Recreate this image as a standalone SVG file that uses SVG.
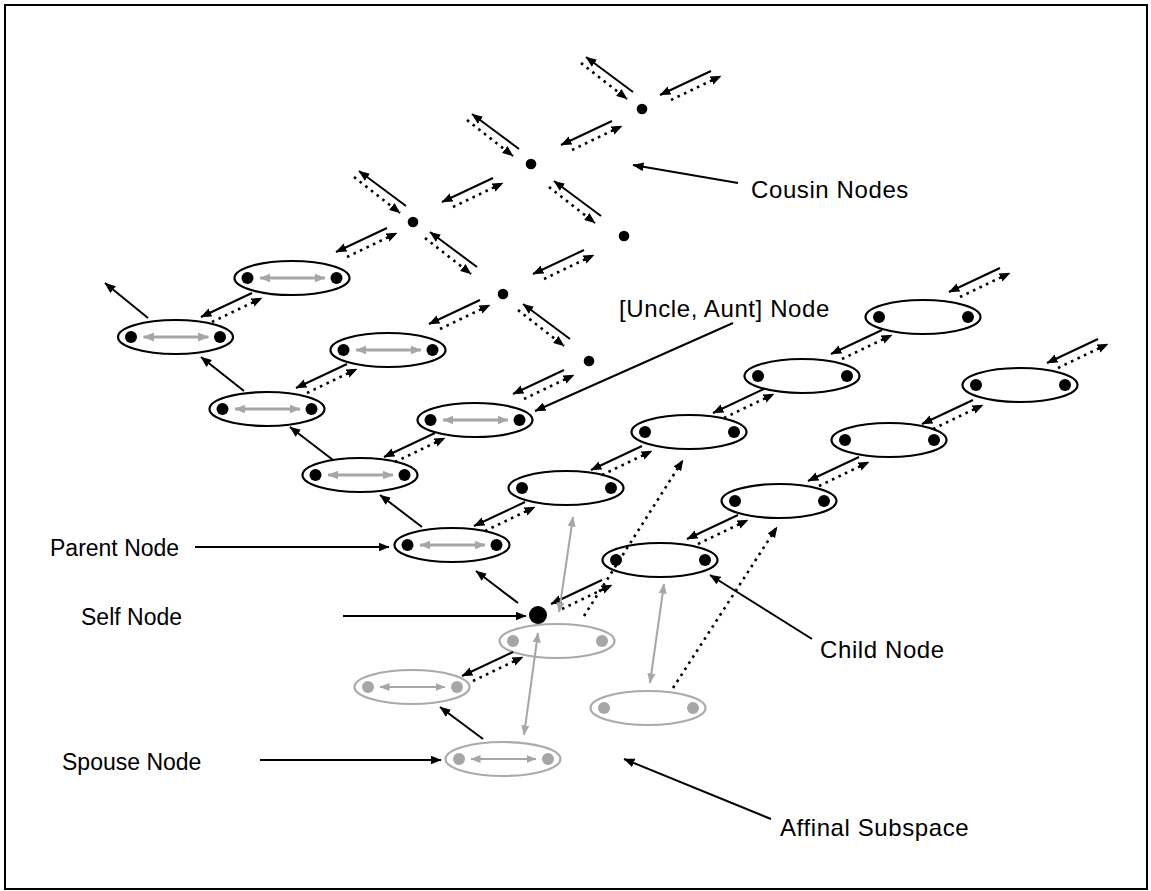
<svg xmlns="http://www.w3.org/2000/svg" width="1151" height="891" viewBox="0 0 1151 891">
<style>
.frame{fill:#fff;stroke:#000;stroke-width:2}
.eb{fill:#fff;stroke:#000;stroke-width:2.2}
.eg{fill:#fff;stroke:#aaa;stroke-width:2.2}
.db{fill:#000}
.dg{fill:#a6a6a6}
.s{stroke:#000;stroke-width:2;fill:none;marker-end:url(#ah)}
.d{stroke:#000;stroke-width:2.6;stroke-dasharray:2.6 4.6;fill:none;marker-end:url(#ah)}
.ga{stroke:#a6a6a6;stroke-width:2.8;fill:none;marker-start:url(#ag);marker-end:url(#ag)}
.gl{stroke:#a6a6a6;stroke-width:2;fill:none;marker-start:url(#ag2);marker-end:url(#ag2)}
.p{stroke:#000;stroke-width:2;fill:none;marker-end:url(#ah)}
text{font-family:"Liberation Sans",Arial,sans-serif;font-size:24px;letter-spacing:0.6px;fill:#000}
text.l{font-size:23px;letter-spacing:0}
</style>
<defs>
<marker id="ah" viewBox="0 0 10 8" refX="9.5" refY="4" markerWidth="11" markerHeight="9" markerUnits="userSpaceOnUse" orient="auto-start-reverse"><path d="M0,0L10,4L0,8z" fill="#000"/></marker>
<marker id="ag" viewBox="0 0 10 8" refX="9.5" refY="4" markerWidth="11" markerHeight="10" markerUnits="userSpaceOnUse" orient="auto-start-reverse"><path d="M0,0L10,4L0,8z" fill="#a6a6a6"/></marker>
<marker id="ag2" viewBox="0 0 10 8" refX="9.5" refY="4" markerWidth="10" markerHeight="8.5" markerUnits="userSpaceOnUse" orient="auto-start-reverse"><path d="M0,0L10,4L0,8z" fill="#a6a6a6"/></marker>
</defs>
<rect class="frame" x="5" y="5" width="1142" height="884"/>

<g id="nodes-left">
<g id="E1"><ellipse class="eb" cx="175.5" cy="337" rx="57.5" ry="17"/><circle class="db" cx="131" cy="337" r="6"/><circle class="db" cx="220" cy="337" r="6"/><line class="ga" x1="143.5" y1="337" x2="208.5" y2="337"/></g>
<g id="E2"><ellipse class="eb" cx="292" cy="278" rx="57.5" ry="17"/><circle class="db" cx="247.5" cy="278" r="6"/><circle class="db" cx="336.5" cy="278" r="6"/><line class="ga" x1="260" y1="278" x2="325" y2="278"/></g>
<g id="E3"><ellipse class="eb" cx="388" cy="350" rx="57.5" ry="17"/><circle class="db" cx="343.5" cy="350" r="6"/><circle class="db" cx="432.5" cy="350" r="6"/><line class="ga" x1="356" y1="350" x2="421" y2="350"/></g>
<g id="E4"><ellipse class="eb" cx="267" cy="409" rx="57.5" ry="17"/><circle class="db" cx="222.5" cy="409" r="6"/><circle class="db" cx="311.5" cy="409" r="6"/><line class="ga" x1="235" y1="409" x2="300" y2="409"/></g>
<g id="E5"><ellipse class="eb" cx="360" cy="475" rx="57.5" ry="17"/><circle class="db" cx="315.5" cy="475" r="6"/><circle class="db" cx="404.5" cy="475" r="6"/><line class="ga" x1="328" y1="475" x2="393" y2="475"/></g>
<g id="E6"><ellipse class="eb" cx="475" cy="420" rx="57.5" ry="17"/><circle class="db" cx="430.5" cy="420" r="6"/><circle class="db" cx="519.5" cy="420" r="6"/><line class="ga" x1="443" y1="420" x2="508" y2="420"/></g>
<g id="E7"><ellipse class="eb" cx="452" cy="545" rx="57.5" ry="17"/><circle class="db" cx="407.5" cy="545" r="6"/><circle class="db" cx="496.5" cy="545" r="6"/><line class="ga" x1="420" y1="545" x2="485" y2="545"/></g>
</g>

<g id="nodes-mid">
<g id="M1"><ellipse class="eb" cx="566" cy="488" rx="57.5" ry="17"/><circle class="db" cx="522" cy="488" r="6"/><circle class="db" cx="611" cy="488" r="6"/></g>
<g id="M2"><ellipse class="eb" cx="689" cy="432" rx="57.5" ry="17"/><circle class="db" cx="645" cy="432" r="6"/><circle class="db" cx="734" cy="432" r="6"/></g>
<g id="M3"><ellipse class="eb" cx="802" cy="376" rx="57.5" ry="17"/><circle class="db" cx="758" cy="376" r="6"/><circle class="db" cx="847" cy="376" r="6"/></g>
<g id="M4"><ellipse class="eb" cx="923" cy="317" rx="57.5" ry="17"/><circle class="db" cx="879" cy="317" r="6"/><circle class="db" cx="968" cy="317" r="6"/></g>
</g>

<g id="nodes-right">
<g id="R1"><ellipse class="eb" cx="660" cy="560" rx="57.5" ry="17"/><circle class="db" cx="616" cy="560" r="6"/><circle class="db" cx="705" cy="560" r="6"/></g>
<g id="R2"><ellipse class="eb" cx="779" cy="501" rx="57.5" ry="17"/><circle class="db" cx="735" cy="501" r="6"/><circle class="db" cx="824" cy="501" r="6"/></g>
<g id="R3"><ellipse class="eb" cx="889" cy="440" rx="57.5" ry="17"/><circle class="db" cx="845" cy="440" r="6"/><circle class="db" cx="934" cy="440" r="6"/></g>
<g id="R4"><ellipse class="eb" cx="1020" cy="385" rx="57.5" ry="17"/><circle class="db" cx="976" cy="385" r="6"/><circle class="db" cx="1065" cy="385" r="6"/></g>
</g>

<g id="nodes-affinal">
<g id="G1"><ellipse class="eg" cx="557" cy="641" rx="57.5" ry="17"/><circle class="dg" cx="513" cy="641" r="6"/><circle class="dg" cx="602" cy="641" r="6"/></g>
<g id="G2"><ellipse class="eg" cx="412" cy="687" rx="57.5" ry="17"/><circle class="dg" cx="368" cy="687" r="6"/><circle class="dg" cx="457" cy="687" r="6"/><line class="gl" x1="380" y1="687" x2="445" y2="687"/></g>
<g id="G3"><ellipse class="eg" cx="503" cy="759" rx="57.5" ry="17"/><circle class="dg" cx="459" cy="759" r="6"/><circle class="dg" cx="548" cy="759" r="6"/><line class="gl" x1="471" y1="759" x2="536" y2="759"/></g>
<g id="G4"><ellipse class="eg" cx="648" cy="708" rx="57.5" ry="17"/><circle class="dg" cx="604" cy="708" r="6"/><circle class="dg" cx="693" cy="708" r="6"/></g>
</g>

<g id="self"><circle class="db" cx="538" cy="615" r="9"/></g>

<g id="cousins">
<circle class="db" cx="642" cy="109" r="5.3"/>
<circle class="db" cx="531" cy="164" r="5.3"/>
<circle class="db" cx="413" cy="222" r="5.3"/>
<circle class="db" cx="624" cy="236" r="5.3"/>
<circle class="db" cx="503" cy="294" r="5.3"/>
<circle class="db" cx="589" cy="361" r="5.3"/>
</g>

<g id="connectors">
<line class="s" x1="711" y1="71" x2="660" y2="95"/><line class="d" x1="671" y1="100" x2="721" y2="76"/>
<line class="s" x1="612" y1="121" x2="561" y2="145"/><line class="d" x1="572" y1="150" x2="622" y2="126"/>
<line class="s" x1="493" y1="178" x2="442" y2="202"/><line class="d" x1="453" y1="207" x2="503" y2="183"/>
<line class="s" x1="584" y1="250" x2="533" y2="274"/><line class="d" x1="544" y1="279" x2="594" y2="255"/>
<line class="s" x1="387" y1="228" x2="336" y2="252"/><line class="d" x1="347" y1="257" x2="397" y2="233"/>
<line class="s" x1="480" y1="300" x2="429" y2="324"/><line class="d" x1="440" y1="329" x2="490" y2="305"/>
<line class="s" x1="564" y1="370" x2="513" y2="394"/><line class="d" x1="524" y1="399" x2="574" y2="375"/>
<line class="s" x1="252" y1="293" x2="201" y2="317"/><line class="d" x1="212" y1="322" x2="262" y2="298"/>
<line class="s" x1="347" y1="364" x2="296" y2="388"/><line class="d" x1="307" y1="393" x2="357" y2="369"/>
<line class="s" x1="435" y1="433" x2="384" y2="457"/><line class="d" x1="395" y1="462" x2="445" y2="438"/>
<line class="s" x1="525" y1="502" x2="474" y2="526"/><line class="d" x1="485" y1="531" x2="535" y2="507"/>
<line class="s" x1="642" y1="446" x2="591" y2="470"/><line class="d" x1="602" y1="475" x2="652" y2="451"/>
<line class="s" x1="764" y1="389" x2="713" y2="413"/><line class="d" x1="724" y1="418" x2="774" y2="394"/>
<line class="s" x1="882" y1="330" x2="831" y2="354"/><line class="d" x1="842" y1="359" x2="892" y2="335"/>
<line class="s" x1="1000" y1="268" x2="949" y2="292"/><line class="d" x1="960" y1="297" x2="1010" y2="273"/>
<line class="s" x1="1098" y1="339" x2="1047" y2="363"/><line class="d" x1="1058" y1="368" x2="1108" y2="344"/>
<line class="s" x1="973" y1="400" x2="922" y2="424"/><line class="d" x1="933" y1="429" x2="983" y2="405"/>
<line class="s" x1="859" y1="457" x2="808" y2="481"/><line class="d" x1="819" y1="486" x2="869" y2="462"/>
<line class="s" x1="738" y1="515" x2="687" y2="539"/><line class="d" x1="698" y1="544" x2="748" y2="520"/>
<line class="s" x1="602" y1="580" x2="551" y2="604"/><line class="d" x1="562" y1="609" x2="612" y2="585"/>
<line class="s" x1="513" y1="652" x2="462" y2="676"/><line class="d" x1="473" y1="681" x2="523" y2="657"/>
<line class="s" x1="633" y1="92" x2="586" y2="57"/><line class="d" x1="581" y1="63" x2="627" y2="99"/>
<line class="s" x1="519" y1="149" x2="472" y2="114"/><line class="d" x1="467" y1="120" x2="513" y2="156"/>
<line class="s" x1="601" y1="216" x2="554" y2="181"/><line class="d" x1="549" y1="187" x2="595" y2="223"/>
<line class="s" x1="406" y1="206" x2="359" y2="171"/><line class="d" x1="354" y1="177" x2="400" y2="213"/>
<line class="s" x1="477" y1="267" x2="430" y2="232"/><line class="d" x1="425" y1="238" x2="471" y2="274"/>
<line class="s" x1="570" y1="339" x2="523" y2="304"/><line class="d" x1="518" y1="310" x2="564" y2="346"/>
<line class="s" x1="148" y1="318" x2="105" y2="283"/>
<line class="s" x1="244" y1="391" x2="201" y2="357"/>
<line class="s" x1="333" y1="460" x2="290" y2="427"/>
<line class="s" x1="422" y1="527" x2="380" y2="495"/>
<line class="s" x1="518" y1="603" x2="476" y2="571"/>
<line class="s" x1="483" y1="739" x2="440" y2="707"/>
<line class="gl" x1="559" y1="612" x2="573" y2="517"/>
<line class="gl" x1="538" y1="633" x2="524" y2="735"/>
<line class="gl" x1="664" y1="584" x2="650" y2="683"/>
<line class="d" x1="584" y1="616" x2="683" y2="460"/>
<line class="d" x1="673" y1="688" x2="777" y2="527"/>
<line class="p" x1="738" y1="183" x2="633" y2="165"/>
<line class="p" x1="733" y1="323" x2="535" y2="411"/>
<line class="p" x1="195" y1="547" x2="389" y2="547"/>
<line class="p" x1="343" y1="616" x2="526" y2="616"/>
<line class="p" x1="260" y1="760" x2="441" y2="760"/>
<line class="p" x1="812" y1="639" x2="710" y2="575"/>
<line class="p" x1="771" y1="819" x2="624" y2="759"/>
</g>

<g id="labels">
<text x="751" y="198">Cousin Nodes</text>
<text x="619" y="317">[Uncle, Aunt] Node</text>
<text class="l" x="50" y="556">Parent Node</text>
<text class="l" x="81" y="625">Self Node</text>
<text class="l" x="62" y="770">Spouse Node</text>
<text x="820" y="658">Child Node</text>
<text x="780" y="836">Affinal Subspace</text>
</g>
</svg>
